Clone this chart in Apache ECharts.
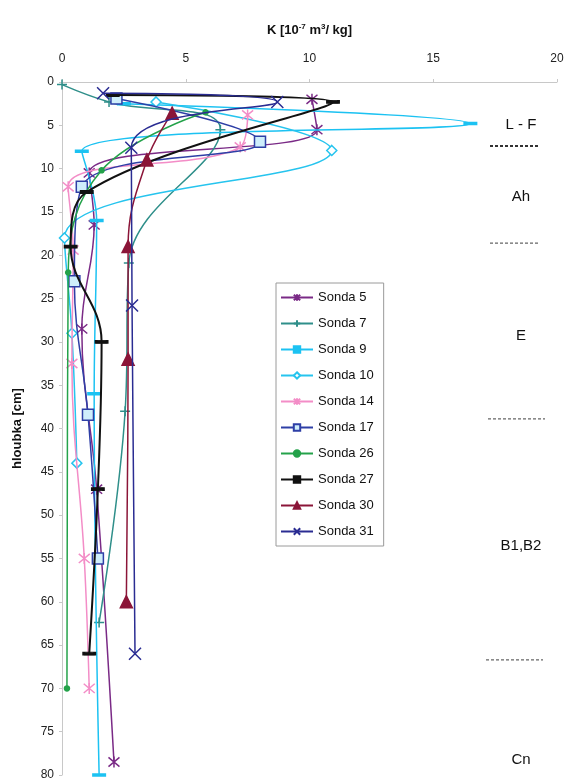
<!DOCTYPE html>
<html>
<head>
<meta charset="utf-8">
<script src="https://cdn.jsdelivr.net/npm/echarts@6/dist/echarts.min.js"></script>
<style>
  html, body { margin: 0; padding: 0; background: #fff; }
  #chart { width: 568px; height: 782px; }
</style>
</head>
<body>
<div id="chart"></div>
<script>
// [K, depth] pairs
const sonda5 = [[10.1, 2], [10.3, 5.5], [1.1, 10.5], [1.3, 16.5], [0.8, 28.5], [1.4, 47], [2.1, 78.5]];
const sonda7 = [[0, 0.3], [1.9, 2.3], [6.4, 5.5], [2.7, 20.9], [2.55, 38], [1.5, 62.4]];
const sonda9 = [[2.5, 2.5], [16.5, 4.8], [0.8, 8], [1.4, 16], [1.3, 36], [1.5, 80]];
const sonda10 = [[3.8, 2.3], [10.9, 7.9], [0.1, 18], [0.4, 29], [0.6, 44]];
const sonda14 = [[7.5, 3.8], [7.2, 7.5], [0.25, 12.1], [0.45, 19.4], [0.4, 32.5], [0.9, 55], [1.1, 70]];
const sonda17 = [[2.2, 1.9], [8, 6.9], [0.8, 12.1], [0.5, 23], [1.05, 38.4], [1.45, 55]];
const sonda26 = [[5.8, 3.5], [1.6, 10.2], [0.25, 22], [0.2, 70]];
const sonda27 = [[2.05, 1.5], [10.95, 2.3], [1.0, 12.7], [0.35, 19], [1.6, 30], [1.45, 47], [1.1, 66]];
const sonda30 = [[4.45, 3.6], [3.43, 9], [2.67, 19], [2.67, 32], [2.6, 60]];
const sonda31 = [[1.66, 1.3], [8.7, 2.3], [2.8, 7.6], [2.83, 25.8], [2.95, 66]];

const seriesNames = ["Sonda 5", "Sonda 7", "Sonda 9", "Sonda 10", "Sonda 14", "Sonda 17", "Sonda 26", "Sonda 27", "Sonda 30", "Sonda 31"];
const seriesData = [sonda5, sonda7, sonda9, sonda10, sonda14, sonda17, sonda26, sonda27, sonda30, sonda31];

// soil horizons on the right side
const horizonNames = ["L - F", "Ah", "E", "B1,B2", "Cn"];
const horizonLabelDepth = [5, 13.3, 29.3, 53.5, 78.2];
const horizonBounds = [7.4, 18.6, 38.9, 66.7];

const ASTER = "path://M0,0L10,10M10,0L0,10M5,-1L5,11";
const CROSS = "path://M0,0L10,10M10,0L0,10";
const PLUS = "path://M5,0L5,10M0,5L10,5";
const DASH = "path://M0,0L10,0L10,3L0,3Z";

const styles = [
  { color: "#7a2a86", symbol: ASTER, size: 11, fill: "#7a2a86" },
  { color: "#2f8f8a", symbol: PLUS, size: 10, fill: "#2f8f8a" },
  { color: "#1cc2f2", symbol: DASH, size: [8, 2], fill: "#1cc2f2" },
  { color: "#26c4ee", symbol: "diamond", size: 10, fill: "#ffffff" },
  { color: "#f38dc7", symbol: ASTER, size: 11, fill: "#f38dc7" },
  { color: "#2e3fa6", symbol: "rect", size: 11, fill: "#cfeefb" },
  { color: "#24a24a", symbol: "circle", size: 5, fill: "#24a24a" },
  { color: "#111111", symbol: DASH, size: [11, 3], fill: "#111111" },
  { color: "#8b1538", symbol: "triangle", size: 12, fill: "#8b1538" },
  { color: "#2a2c92", symbol: CROSS, size: 12, fill: "#2a2c92" },
];

const chart = echarts.init(document.getElementById("chart"), undefined, { renderer: "canvas" });
const FONT = "'Liberation Sans', Arial, sans-serif";

const series = seriesData.map((data, i) => ({
  name: seriesNames[i],
  type: "line",
  data: data,
  smooth: 0.4,
  symbol: styles[i].symbol,
  symbolSize: styles[i].size,
  showAllSymbol: true,
  lineStyle: { color: styles[i].color, width: i === 7 ? 2 : 1.5 },
  itemStyle: {
    color: styles[i].fill,
    borderColor: styles[i].color,
    borderWidth: 1.5,
  },
  emphasis: { disabled: true },
  z: 2 + i,
}));

const option = {
  animation: false,
  backgroundColor: "#ffffff",
  textStyle: { fontFamily: FONT },
  grid: { left: 62, right: 11, top: 82, bottom: 7 },
  xAxis: {
    type: "value",
    position: "top",
    min: 0,
    max: 20,
    interval: 5,
    name: "{b|K [10}{s|-7}{b| m}{s|3}{b|/ kg]}",
    nameLocation: "middle",
    nameGap: 44,
    nameTextStyle: {
      rich: {
        b: { fontSize: 13, fontWeight: "bold", color: "#111", fontFamily: FONT },
        s: { fontSize: 8, fontWeight: "bold", color: "#111", verticalAlign: "top", padding: [0, 0, 7, 0], fontFamily: FONT },
      },
    },
    axisLine: { lineStyle: { color: "#c8c8c8", width: 1 } },
    axisTick: { length: 3, lineStyle: { color: "#c8c8c8" } },
    axisLabel: { color: "#222", fontSize: 12, margin: 17, fontFamily: FONT },
    splitLine: { show: false },
  },
  yAxis: {
    type: "value",
    inverse: true,
    min: 0,
    max: 80,
    interval: 5,
    name: "hloubka [cm]",
    nameLocation: "middle",
    nameGap: 38,
    nameRotate: 90,
    nameTextStyle: { fontSize: 13, fontWeight: "bold", color: "#111", fontFamily: FONT },
    axisLine: { lineStyle: { color: "#c8c8c8", width: 1 } },
    axisTick: { length: 3, lineStyle: { color: "#c8c8c8" } },
    axisLabel: { color: "#222", fontSize: 12, margin: 8, fontFamily: FONT },
    splitLine: { show: false },
  },
  legend: {
    data: seriesNames,
    orient: "vertical",
    left: 276,
    top: 283,
    itemWidth: 32,
    itemHeight: 8,
    itemGap: 13,
    padding: [8, 10, 8, 4],
    borderColor: "#9a9a9a",
    borderWidth: 1,
    textStyle: { color: "#111", fontSize: 13, fontFamily: FONT },
  },
  series: series,
};

chart.setOption(option);

// horizon labels and dashed boundaries, positioned on the depth axis
const yPix = (d) => chart.convertToPixel({ yAxisIndex: 0 }, d);
const boundX = [[490, 538], [490, 538], [488, 545], [486, 543]];
const graphics = [];
horizonNames.forEach((name, i) => {
  graphics.push({
    type: "text",
    x: 521,
    y: yPix(horizonLabelDepth[i]),
    style: {
      text: name,
      fill: "#111",
      font: "15px 'Liberation Sans', Arial, sans-serif",
      align: "center",
      verticalAlign: "middle",
    },
  });
});
horizonBounds.forEach((d, i) => {
  graphics.push({
    type: "line",
    shape: { x1: boundX[i][0], y1: yPix(d), x2: boundX[i][1], y2: yPix(d) },
    style: {
      stroke: i === 0 ? "#333" : "#666",
      lineWidth: i === 0 ? 2 : 1.2,
      lineDash: [3, 2],
    },
  });
});
chart.setOption({ graphic: graphics });
</script>
</body>
</html>
